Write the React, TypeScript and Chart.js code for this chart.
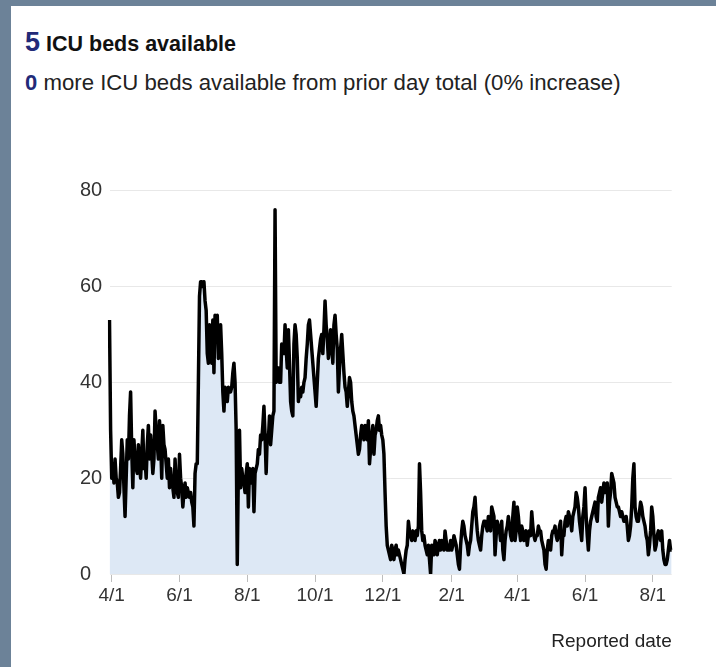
import React, { useEffect, useRef } from "react";
import { Chart, registerables } from "chart.js";

Chart.register(...registerables);

// Daily ICU beds available, starting 3/30/2020
const START_YEAR = 2020;
const START_MONTH = 3; // March
const START_DAY = 30;

const valuesSpring2020 = [
  53, 30, 20, 23, 19, 24, 20, 19, 16, 17,
  22, 28, 25, 18, 12, 20, 28, 24, 33, 38,
  26, 18, 28, 24, 22, 21, 27, 23, 20, 25,
  30, 22, 24, 20, 27, 31, 24, 29, 25, 21,
  24, 34, 30, 27, 24, 32, 28, 20, 31, 27,
  26, 23, 20, 24, 18, 22, 19, 18, 16, 24,
  19, 17, 16, 25, 20, 18, 14, 17, 19, 16,
  18, 17, 16, 17, 15, 14, 10, 21, 23, 23,
];
const valuesSummer2020 = [
  40, 58, 61, 61, 60, 61, 57, 55, 46, 44,
  52, 47, 44, 53, 42, 54, 50, 54, 45, 48,
  52, 46, 38, 34, 39, 37, 36, 39, 38, 38,
  39, 42, 44, 40, 30, 2, 22, 30, 18, 22,
  20, 19, 17, 21, 23, 14, 22, 20, 19, 22,
  13, 21, 22, 23, 26, 25, 29, 28, 31, 35,
  29, 21, 29, 28, 33, 27, 30, 33, 34, 76,
  40, 42, 43, 40, 40, 48, 46, 46, 52, 47,
];
const valuesFall2020 = [
  43, 51, 44, 36, 34, 33, 48, 52, 50, 45,
  36, 38, 37, 39, 38, 40, 41, 45, 48, 52,
  53, 50, 47, 44, 41, 38, 35, 40, 45, 47,
  49, 50, 46, 51, 57, 52, 49, 45, 47, 51,
  48, 44, 52, 54, 50, 47, 38, 43, 47, 50,
  46, 42, 39, 38, 35, 38, 41, 40, 36, 34,
  33, 31, 29, 27, 25, 26, 29, 31, 30, 28,
  31, 30, 28, 32, 23, 26, 29, 31, 25, 29,
  30, 32, 33, 30, 31, 29, 28, 25, 17, 10,
];
const valuesWinter2021 = [
  6, 5, 4, 3, 6, 5, 3, 5, 6, 4,
  5, 4, 3, 2, 1, 0, 3, 5, 6, 11,
  9, 8, 7, 9, 8, 7, 9, 8, 10, 23,
  17, 9, 7, 8, 6, 5, 4, 6, 3, 0,
  6, 5, 4, 7, 6, 4, 6, 7, 5, 7,
  6, 5, 9, 7, 5, 6, 5, 7, 5, 6,
  8, 7, 6, 4, 2, 1, 6, 9, 11, 10,
  8, 7, 6, 4, 6, 7, 10, 13, 14, 16,
  12, 9, 7, 6, 5, 8, 10, 11, 11, 10,
];
const valuesSpring2021 = [
  9, 12, 10, 9, 14, 13, 12, 4, 8, 11,
  10, 9, 7, 11, 5, 3, 7, 9, 10, 12,
  10, 8, 7, 12, 15, 7, 9, 14, 12, 9,
  7, 10, 9, 7, 8, 9, 6, 8, 9, 8,
  13, 10, 8, 7, 8, 8, 10, 9, 9, 7,
  6, 5, 2, 1, 5, 7, 6, 5, 8, 9,
  9, 10, 8, 7, 8, 10, 11, 4, 8, 8,
  11, 12, 10, 13, 12, 11, 9, 12, 13, 14,
  17, 16, 14, 11, 9, 7, 12, 14, 18, 12,
];
const valuesSummer2021 = [
  8, 5, 9, 11, 12, 13, 14, 15, 12, 11,
  16, 17, 18, 15, 17, 19, 17, 18, 19, 10,
  15, 17, 21, 20, 19, 16, 15, 14, 14, 13,
  12, 13, 12, 11, 11, 12, 10, 7, 8, 10,
  14, 20, 23, 14, 12, 11, 11, 13, 15, 14,
  12, 11, 10, 8, 7, 4, 6, 9, 14, 12,
  8, 5, 6, 8, 9, 8, 7, 9, 5, 3,
  2, 2, 3, 5, 7, 5, 5,
];

const dailyValues = [
  ...valuesSpring2020,
  ...valuesSummer2020,
  ...valuesFall2020,
  ...valuesWinter2021,
  ...valuesSpring2021,
  ...valuesSummer2021,
];

const xTickLabels = ["4/1", "6/1", "8/1", "10/1", "12/1", "2/1"];
const yTickValues = [0, 20, 40, 60, 80];

const dateLabels = dailyValues.map((_, i) => {
  const d = new Date(Date.UTC(START_YEAR, START_MONTH - 1, START_DAY + i));
  return `${d.getUTCMonth() + 1}/${d.getUTCDate()}/${d.getUTCFullYear()}`;
});

const FONT = "'Liberation Sans', Arial, sans-serif";
const NAVY = "#222a78";

export default function App() {
  const canvasRef = useRef<HTMLCanvasElement | null>(null);

  useEffect(() => {
    if (!canvasRef.current) return;
    const chart = new Chart(canvasRef.current, {
      type: "line",
      data: {
        labels: dateLabels,
        datasets: [
          {
            data: dailyValues,
            borderColor: "#000000",
            borderWidth: 3.5,
            backgroundColor: "rgb(221,232,245)",
            fill: "origin",
            pointRadius: 0,
            tension: 0,
            borderJoinStyle: "round",
          },
        ],
      },
      options: {
        animation: false,
        responsive: false,
        events: [],
        layout: { padding: { left: 10, right: 18.3, top: 20.7, bottom: 0 } },
        plugins: { legend: { display: false }, tooltip: { enabled: false } },
        scales: {
          x: {
            type: "category",
            offset: false,
            border: { display: false },
            grid: {
              drawOnChartArea: false,
              drawTicks: true,
              tickLength: 8,
              color: "#bdbdbd",
              lineWidth: 1,
            },
            ticks: {
              autoSkip: false,
              maxRotation: 0,
              minRotation: 0,
              padding: 2,
              color: "#333333",
              font: { family: FONT, size: 19 },
              callback: (_v: any, index: number) => {
                const parts = dateLabels[index].split("/");
                const md = `${parts[0]}/${parts[1]}`;
                return xTickLabels.includes(md) ? md : null;
              },
            },
            title: {
              display: true,
              text: "Reported date",
              align: "end",
              color: "#222222",
              font: { family: FONT, size: 19 },
              padding: { top: 0, bottom: 7 },
            },
            afterFit: (scale: any) => {
              scale.height = 86;
            },
          },
          y: {
            min: yTickValues[0],
            max: yTickValues[yTickValues.length - 1],
            border: { display: false },
            grid: { color: "#e8e8e8", lineWidth: 1, drawTicks: false },
            afterBuildTicks: (scale: any) => {
              scale.ticks = yTickValues.map((v) => ({ value: v }));
            },
            ticks: {
              crossAlign: "far",
              padding: 8,
              color: "#333333",
              font: { family: FONT, size: 20 },
            },
            afterFit: (scale: any) => {
              scale.width = 29.5;
            },
          },
        },
      },
    });
    return () => chart.destroy();
  }, []);

  return (
    <div style={{ position: "fixed", left: 0, top: 0, width: 716, height: 667, background: "#6c8298", overflow: "hidden" }}>
      <div style={{ position: "absolute", left: 11, top: 6, right: 0, bottom: 0, background: "#ffffff" }} />
      <div style={{ position: "absolute", left: 25, top: 29, fontFamily: FONT, whiteSpace: "nowrap", lineHeight: 1 }}>
        <span style={{ color: NAVY, fontWeight: "bold", fontSize: 27 }}>5</span>
        <span style={{ color: "#111111", fontWeight: "bold", fontSize: 21.5 }}> ICU beds available</span>
      </div>
      <div style={{ position: "absolute", left: 25, top: 72, fontFamily: FONT, whiteSpace: "nowrap", lineHeight: 1 }}>
        <span style={{ color: NAVY, fontWeight: "bold", fontSize: 22 }}>0</span>
        <span style={{ color: "#222222", fontSize: 22.2 }}> more ICU beds available from prior day total (0% increase)</span>
      </div>
      <canvas
        ref={canvasRef}
        width={620}
        height={490}
        style={{ position: "absolute", left: 70, top: 170, width: 620, height: 490 }}
      />
    </div>
  );
}
